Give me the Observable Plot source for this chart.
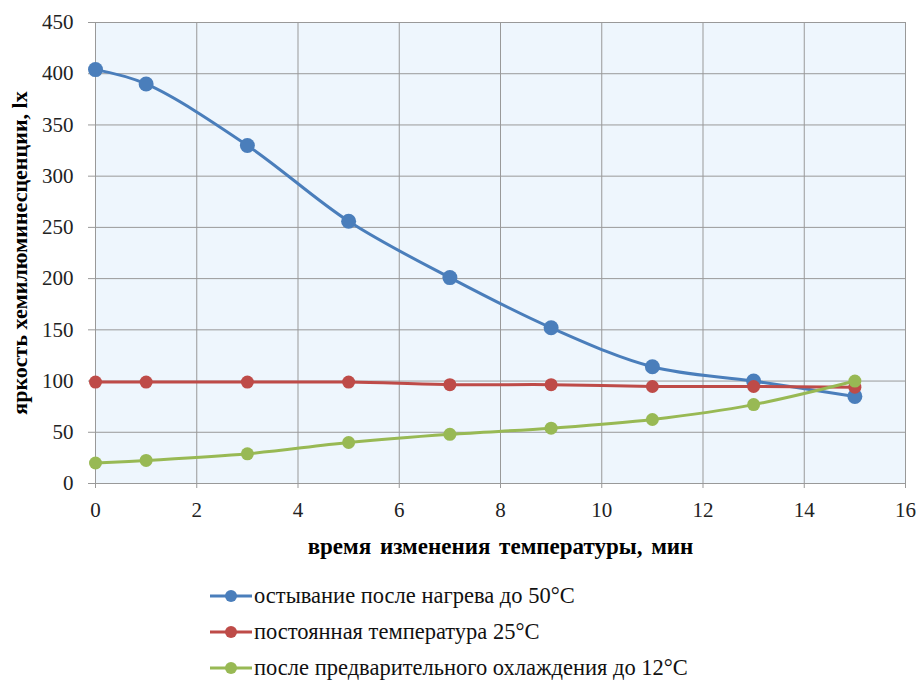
<!DOCTYPE html>
<html>
<head>
<meta charset="utf-8">
<script src="https://cdn.jsdelivr.net/npm/d3@7"></script>
<script src="https://cdn.jsdelivr.net/npm/@observablehq/plot@0.6"></script>
<style>
  body { margin: 0; background: #fff; font-family: 'Liberation Serif', serif; }
  #chart svg { display: block; }
  .legend { position: relative; height: 120px; }
  .row { position: absolute; left: 0; height: 36px; display: flex; align-items: center; }
  .row svg { margin-left: 210px; }
  .row span { font-family: 'Liberation Serif', serif; font-size: 22.5px; color: #111; margin-left: 2px; }
</style>
</head>
<body>
<div id="chart"></div>
<div class="legend" id="legend"></div>
<script>
const times = [0, 1, 3, 5, 7, 9, 11, 13, 15];
const cooling = [404, 390, 330, 256, 201, 152, 114, 100, 85];
const constant = [99, 99, 99, 99, 96.5, 96.5, 94.7, 94.7, 94];
const precooled = [20, 22.5, 29, 40, 48, 54, 62.5, 77, 100];
const seriesNames = [
  "остывание после нагрева до 50°C",
  "постоянная температура 25°C",
  "после предварительного охлаждения до 12°C"
];
const colors = ["#4a7ebb", "#be4b48", "#98b954"];
const radii = [7.5, 6.5, 6.5];
const xTicks = [0, 2, 4, 6, 8, 10, 12, 14, 16];
const yTicks = [0, 50, 100, 150, 200, 250, 300, 350, 400, 450];
const xTitle = "время изменения температуры, мин";
const yTitle = "яркость хемилюминесценции, lx";

const allSeries = [cooling, constant, precooled];
const rows = allSeries.map(vals => times.map((t, i) => ({x: t, y: vals[i]})));

const marks = [
  Plot.frame({fill: "#eef6fd", stroke: null}),
  Plot.gridX(xTicks, {stroke: "#999", strokeOpacity: 1}),
  Plot.gridY(yTicks, {stroke: "#999", strokeOpacity: 1}),
  Plot.ruleX([0], {stroke: "#999"}),
  Plot.axisX({ticks: xTicks, tickSize: 5, tickPadding: 14, stroke: "#999", fontSize: 21, color: "#222",
    label: xTitle, labelAnchor: "center", labelArrow: "none", labelOffset: 70}),
  Plot.axisY({ticks: yTicks, tickSize: 7, tickPadding: 15, stroke: "#999", fontSize: 21, color: "#222",
    label: yTitle, labelAnchor: "center", labelArrow: "none", labelOffset: 84})
];
rows.forEach((d, i) => {
  marks.push(Plot.line(d, {x: "x", y: "y", stroke: colors[i], strokeWidth: 3, curve: "catmull-rom"}));
  marks.push(Plot.dot(d, {x: "x", y: "y", fill: colors[i], r: radii[i]}));
});

const chart = Plot.plot({
  width: 919,
  height: 560,
  marginLeft: 95,
  marginRight: 14,
  marginTop: 22,
  marginBottom: 77,
  style: {fontFamily: "'Liberation Serif', serif", fontSize: "21px", color: "#222", background: "#fff"},
  x: {domain: [0, 16]},
  y: {domain: [0, 450]},
  marks
});
document.getElementById("chart").appendChild(chart);
d3.select(chart).selectAll("text").style("font-family", "'Liberation Serif', serif");
d3.select(chart).selectAll("g[aria-label='x-axis label'] text")
  .style("font-weight", "bold").style("font-size", "23px").style("word-spacing", "3px").style("fill", "#000");
d3.select(chart).selectAll("g[aria-label='y-axis label'] text")
  .style("font-weight", "bold").style("font-size", "22px").style("fill", "#000");

const legend = document.getElementById("legend");
seriesNames.forEach((name, i) => {
  const row = document.createElement("div");
  row.className = "row";
  row.style.top = (18 + i * 36) + "px";
  row.innerHTML = `<svg width="42" height="14"><line x1="0" x2="42" y1="7" y2="7" stroke="${colors[i]}" stroke-width="3"/><circle cx="21" cy="7" r="6" fill="${colors[i]}"/></svg><span>${name}</span>`;
  legend.appendChild(row);
});
</script>
</body>
</html>
